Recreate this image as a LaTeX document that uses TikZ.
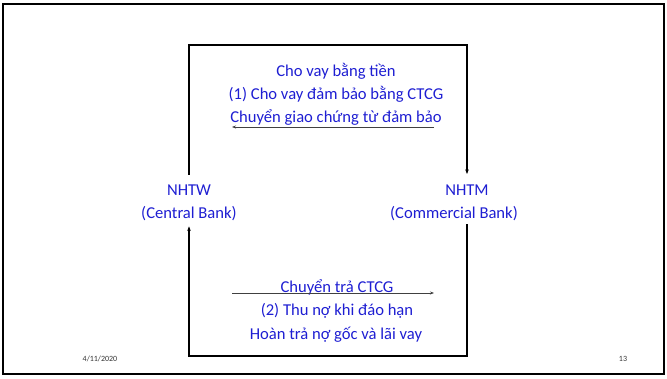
\documentclass[tikz,border=0pt]{standalone}
\usepackage{fontspec}
\setmainfont{Carlito}
\usetikzlibrary{arrows.meta,calc}
\definecolor{txtblue}{RGB}{30,30,210}
\tikzset{
  lbl/.style={text=txtblue,font=\fontsize{16.6}{18}\selectfont,inner sep=1pt,anchor=center},
  foot/.style={text=black!80,font=\fontsize{8}{9}\selectfont,inner sep=0pt},
  flow/.style={draw=black,line width=1.2pt},
  tip/.style={-{Stealth[length=4.5pt,width=3.5pt]}},
  thin flow/.style={draw=black!75,line width=0.7pt,-{Stealth[length=4pt,width=3pt]}}
}
\begin{document}
\begin{tikzpicture}[x=1pt,y=-1pt]
  \useasboundingbox (0,0) rectangle (667,378);
  % slide frame
  \draw[line width=2pt] (3,4) rectangle (664,374);

  % the two banks
  \node[lbl] (nhtw) at (189,190) {NHTW};
  \node[lbl] (cb) at (189,214) {(Central Bank)};
  \node[lbl] (nhtm) at (467,190) {NHTM};
  \node[lbl] (cmb) at (454,214) {(Commercial Bank)};

  % routing levels of the loop
  \coordinate (top) at (0,45);
  \coordinate (bot) at (0,356);

  % upper leg: central bank to commercial bank
  \draw[flow,tip] ([yshift=8.5pt]nhtw.north) -- (nhtw.north |- top)
        -- (nhtm.north |- top) -- ([yshift=9.5pt]nhtm.north);
  % lower leg: commercial bank back to central bank
  \draw[flow,tip] ($(cmb.south -| nhtm)+(0,2)$) -- (nhtm |- bot)
        -- (nhtw |- bot) -- ($(cb.south -| nhtw)+(0,4)$);

  % upper labels
  \node[lbl] (l1) at (336,71) {Cho vay bằng tiền};
  \node[lbl] (l2) at (336,94) {(1) Cho vay đảm bảo bằng CTCG};
  \node[lbl] (l3) at (336,117) {Chuyển giao chứng từ đảm bảo};
  \coordinate (a1s) at (434,127);
  \coordinate (a1e) at (232,127);
  \draw[thin flow] (a1s) -- (a1e);

  % lower labels
  \node[lbl] (m1) at (337,287) {Chuyển trả CTCG};
  \node[lbl] (m2) at (337,311) {(2) Thu nợ khi đáo hạn};
  \node[lbl] (m3) at (336,335) {Hoàn trả nợ gốc và lãi vay};
  \coordinate (a2s) at (232,293);
  \coordinate (a2e) at (434,293);
  \draw[thin flow] (a2s) -- (a2e);

  % footer
  \node[foot] (date) at (100,359) {4/11/2020};
  \node[foot] (page) at (623,359) {13};
\end{tikzpicture}
\end{document}
